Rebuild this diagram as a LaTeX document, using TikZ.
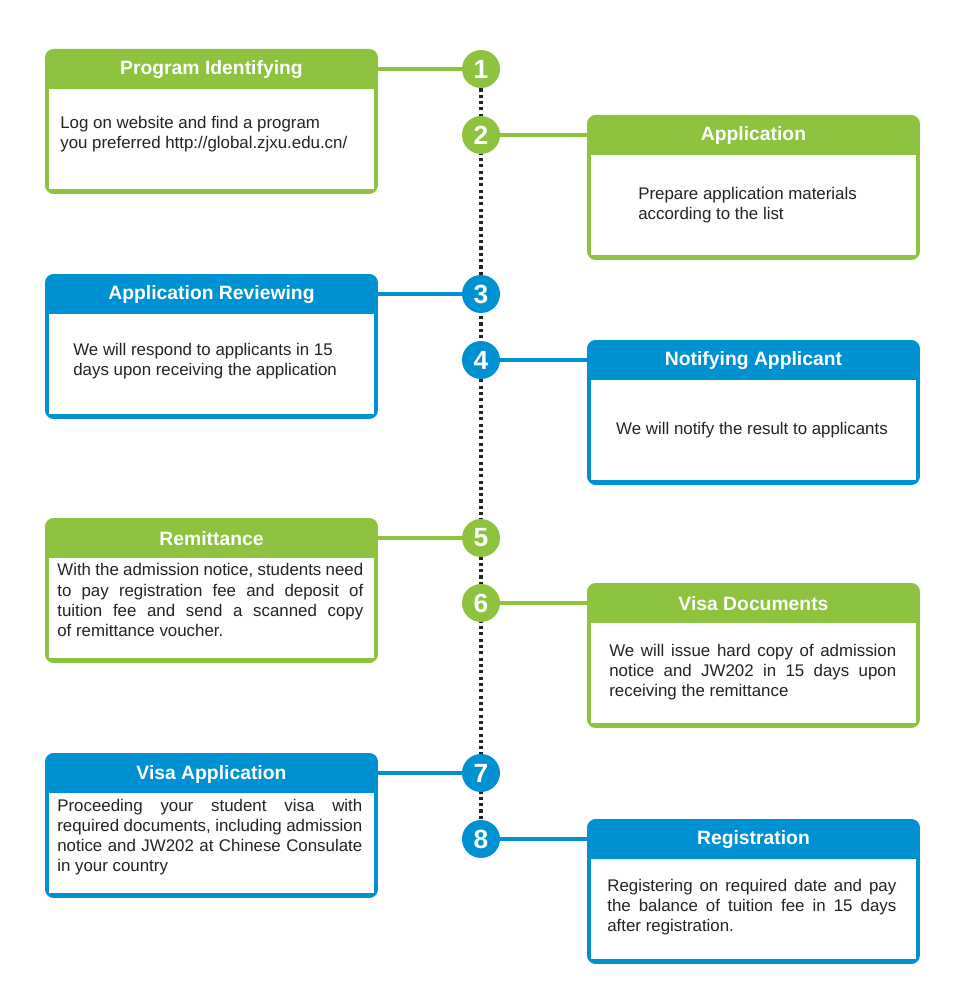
\documentclass[tikz,border=0pt]{standalone}
\usepackage{fontspec}
\setmainfont{Liberation Sans}
\usepackage{tikz}
\usetikzlibrary{positioning,backgrounds,calc}
\definecolor{stepgreen}{RGB}{141,195,63}
\definecolor{stepblue}{RGB}{0,145,210}
\definecolor{inkgray}{RGB}{35,35,35}

\begin{document}
\begin{tikzpicture}[
    x=0.02cm, y=-0.02cm,
    card/.style={rectangle, draw=#1, fill=#1, line width=2pt, rounded corners=4pt, minimum width=6.59cm, minimum height=2.83cm, anchor=north west, inner sep=0pt},
    pane/.style={rectangle, fill=white, minimum width=6.52cm, minimum height=2.01cm, anchor=north, inner sep=0pt},
    headtxt/.style={text=white, font=\fontsize{11}{13}\selectfont\bfseries, inner sep=0pt},
    txt/.style={text=inkgray, font=\fontsize{9.6}{11.4}\selectfont, inner sep=0pt, anchor=west},
    num/.style={circle, fill=#1, minimum size=0.76cm, inner sep=0pt, text=white, font=\fontsize{15}{15}\selectfont\bfseries},
    link/.style={draw=#1, line width=1.8pt},
    spine/.style={draw=inkgray, line width=1.8pt, dash pattern=on 1.8pt off 1.8pt}
]
\useasboundingbox (0,0) rectangle (959,1000);

% Step 1
\node[card=stepgreen] (c1) at (45,49) {};
\node[pane] (w1) at ([yshift=-0.785cm]c1.north) {};
\node[headtxt] (h1) at ([yshift=-0.42cm]c1.north) {Program Identifying};
\node[txt, align=left] (d1) at (60,134) {Log on website and find a program\\you preferred http://global.zjxu.edu.cn/};
\node[num=stepgreen] (n1) at (481,69) {1};

% Step 2
\node[card=stepgreen] (c2) at (587,115) {};
\node[pane] (w2) at ([yshift=-0.785cm]c2.north) {};
\node[headtxt] (h2) at ([yshift=-0.42cm]c2.north) {Application};
\node[txt, align=left] (d2) at (638,205) {Prepare application materials\\according to the list};
\node[num=stepgreen] (n2) at (481,135) {2};

% Step 3
\node[card=stepblue] (c3) at (45,274) {};
\node[pane] (w3) at ([yshift=-0.785cm]c3.north) {};
\node[headtxt] (h3) at ([yshift=-0.42cm]c3.north) {Application Reviewing};
\node[txt, align=left] (d3) at (73,361) {We will respond to applicants in 15\\days upon receiving the application};
\node[num=stepblue] (n3) at (481,294) {3};

% Step 4
\node[card=stepblue] (c4) at (587,340) {};
\node[pane] (w4) at ([yshift=-0.785cm]c4.north) {};
\node[headtxt] (h4) at ([yshift=-0.42cm]c4.north) {Notifying Applicant};
\node[txt, anchor=center] (d4) at (752,430) {We will notify the result to applicants};
\node[num=stepblue] (n4) at (481,360) {4};

% Step 5
\node[card=stepgreen] (c5) at (45,518) {};
\node[pane] (w5) at ([yshift=-0.785cm]c5.north) {};
\node[headtxt] (h5) at ([yshift=-0.42cm]c5.north) {Remittance};
\node[txt, text width=6.12cm, align=justify] (d5) at (57,600) {With the admission notice, students need\linebreak to pay registration fee and deposit of\linebreak tuition fee and send a scanned copy\linebreak of remittance voucher.};
\node[num=stepgreen] (n5) at (481,538) {5};

% Step 6
\node[card=stepgreen] (c6) at (587,583) {};
\node[pane] (w6) at ([yshift=-0.785cm]c6.north) {};
\node[headtxt] (h6) at ([yshift=-0.42cm]c6.north) {Visa Documents};
\node[txt, text width=5.74cm, align=justify] (d6) at (609,672) {We will issue hard copy of admission\linebreak notice and JW202 in 15 days upon\linebreak receiving the remittance};
\node[num=stepgreen] (n6) at (481,603) {6};

% Step 7
\node[card=stepblue] (c7) at (45,753) {};
\node[pane] (w7) at ([yshift=-0.785cm]c7.north) {};
\node[headtxt] (h7) at ([yshift=-0.42cm]c7.north) {Visa Application};
\node[txt, text width=6.1cm, align=justify] (d7) at (57,837) {Proceeding your student visa with\linebreak required documents, including admission\linebreak notice and JW202 at Chinese Consulate\linebreak in your country};
\node[num=stepblue] (n7) at (481,773) {7};

% Step 8
\node[card=stepblue] (c8) at (587,819) {};
\node[pane] (w8) at ([yshift=-0.785cm]c8.north) {};
\node[headtxt] (h8) at ([yshift=-0.42cm]c8.north) {Registration};
\node[txt, text width=5.78cm, align=justify] (d8) at (607,907) {Registering on required date and pay\linebreak the balance of tuition fee in 15 days\linebreak after registration.};
\node[num=stepblue] (n8) at (481,839) {8};

% Timeline
\begin{scope}[on background layer]
\draw[spine] (n1) -- (n8);
\end{scope}

% Links
\draw[link=stepgreen] (c1.east |- n1) -- (n1);
\draw[link=stepgreen] (n2) -- (c2.west |- n2);
\draw[link=stepblue] (c3.east |- n3) -- (n3);
\draw[link=stepblue] (n4) -- (c4.west |- n4);
\draw[link=stepgreen] (c5.east |- n5) -- (n5);
\draw[link=stepgreen] (n6) -- (c6.west |- n6);
\draw[link=stepblue] (c7.east |- n7) -- (n7);
\draw[link=stepblue] (n8) -- (c8.west |- n8);

\end{tikzpicture}
\end{document}
